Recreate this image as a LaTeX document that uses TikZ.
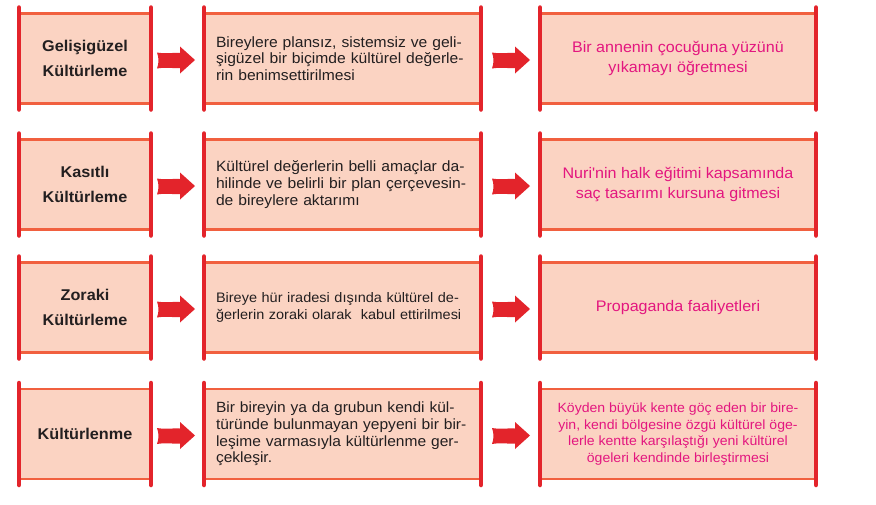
\documentclass[tikz,border=0pt]{standalone}
\usepackage{fontspec}
\setmainfont{Liberation Sans}
\newfontfamily\widefont[FakeStretch=1.05]{Liberation Sans}
\newfontfamily\lblfont[FakeStretch=1.04]{Liberation Sans}
\usetikzlibrary{calc}
\definecolor{scrollfill}{HTML}{FBD3C2}
\definecolor{scrollborder}{HTML}{F1603F}
\definecolor{barred}{HTML}{E3242B}
\definecolor{txt}{HTML}{231F20}
\definecolor{pinktxt}{HTML}{E3167F}
\newcommand\jl[2][253pt]{\makebox[#1][s]{#2}}
\newcommand\redarrow[4]{%
  \coordinate (arrS) at ($(#1.east)+(#3,1.5)$);
  \coordinate (arrE) at ($(#2.west)+(-#4,1.5)$);
  \fill[barred] ($(arrS)+(0,-7.5)$) .. controls ($(arrS)+(8,-6)$) and ($(arrE)+(-22,-7.5)$) .. ($(arrE)+(-15,-7)$)
    -- ($(arrE)+(-15,-13.5)$) -- (arrE) -- ($(arrE)+(-15,13.5)$) -- ($(arrE)+(-15,8)$)
    .. controls ($(arrE)+(-22,8.5)$) and ($(arrS)+(8,7)$) .. ($(arrS)+(0,8.5)$)
    .. controls ($(arrS)+(2,3)$) and ($(arrS)+(2,-2)$) .. cycle;}
\tikzset{
  scroll/.style={draw=scrollborder, fill=scrollfill, line width=2.8pt, minimum height=90pt,
    inner sep=0pt, outer sep=0pt, anchor=center},
  bar/.style={draw=barred, line width=4.5pt, line cap=round},
  leftbox/.style={scroll, minimum width=132pt, text=txt, align=center,
    font=\lblfont\bfseries\fontsize{15.6}{25}\selectfont},
  midbox/.style={scroll, minimum width=277pt, text=txt, align=left, text width=253pt,
    font=\widefont\fontsize{14.9}{16.8}\selectfont},
  rightbox/.style={scroll, minimum width=276pt, text=pinktxt, align=center,
    font=\widefont\fontsize{15.3}{19.5}\selectfont},
}
\begin{document}
\begin{tikzpicture}[x=1pt,y=-1pt]
\useasboundingbox (0,0) rectangle (876,504);
\fill[white] (0,0) rectangle (876,504);
% row 1
\node[leftbox] (l1) at (85,58.5) {Gelişigüzel\\Kültürleme};
\node[midbox] (m1) at (342.5,58.5) {\jl{Bireylere plansız, sistemsiz ve geli-}\\\jl{şigüzel bir biçimde kültürel değerle-}\\rin benimsettirilmesi};
\node[rightbox] (r1) at (678,58.5) {Bir annenin çocuğuna yüzünü\\yıkamayı öğretmesi};
% row 2
\node[leftbox] (l2) at (85,184.5) {Kasıtlı\\Kültürleme};
\node[midbox] (m2) at (342.5,184.5) {\jl[250pt]{Kültürel değerlerin belli amaçlar da-}\\\jl[252pt]{hilinde ve belirli bir plan çerçevesin-}\\de bireylere aktarımı};
\node[rightbox] (r2) at (678,184.5) {Nuri'nin halk eğitimi kapsamında\\saç tasarımı kursuna gitmesi};
% row 3
\node[leftbox] (l3) at (85,307.5) {Zoraki\\Kültürleme};
\node[midbox, font=\widefont\fontsize{13.8}{16.8}\selectfont] (m3) at (342.5,307.5) {\jl[246pt]{Bireye hür iradesi dışında kültürel de-}\\ğerlerin zoraki olarak\ \ kabul ettirilmesi};
\node[rightbox] (r3) at (678,307.5) {Propaganda faaliyetleri};
% row 4
\node[midbox, font=\widefont\fontsize{14.8}{16.7}\selectfont] (m4) at (342.5,434) {\jl[251pt]{Bir bireyin ya da grubun kendi kül-}\\\jl[251pt]{türünde bulunmayan yepyeni bir bir-}\\\jl[251pt]{leşime varmasıyla kültürlenme ger-}\\çekleşir.};
\node[leftbox] (l4) at (85,434) {Kültürlenme};
\node[rightbox, font=\widefont\fontsize{13.4}{16.6}\selectfont] (r4) at (678,434) {Köyden büyük kente göç eden bir bire-\\yin, kendi bölgesine özgü kültürel öge-\\lerle kentte karşılaştığı yeni kültürel\\ögeleri kendinde birleştirmesi};
% scroll bars
\foreach \n in {l1,m1,r1,l2,m2,r2,l3,m3,r3,l4,m4,r4}{
  \draw[bar] ([yshift=6pt]\n.north west) -- ([yshift=-6pt]\n.south west);
  \draw[bar] ([yshift=6pt]\n.north east) -- ([yshift=-6pt]\n.south east);
}
% arrows
\foreach \i in {1,2,3,4}{
  \redarrow{l\i}{m\i}{6}{9}
  \redarrow{m\i}{r\i}{11}{10}
}
\end{tikzpicture}
\end{document}
